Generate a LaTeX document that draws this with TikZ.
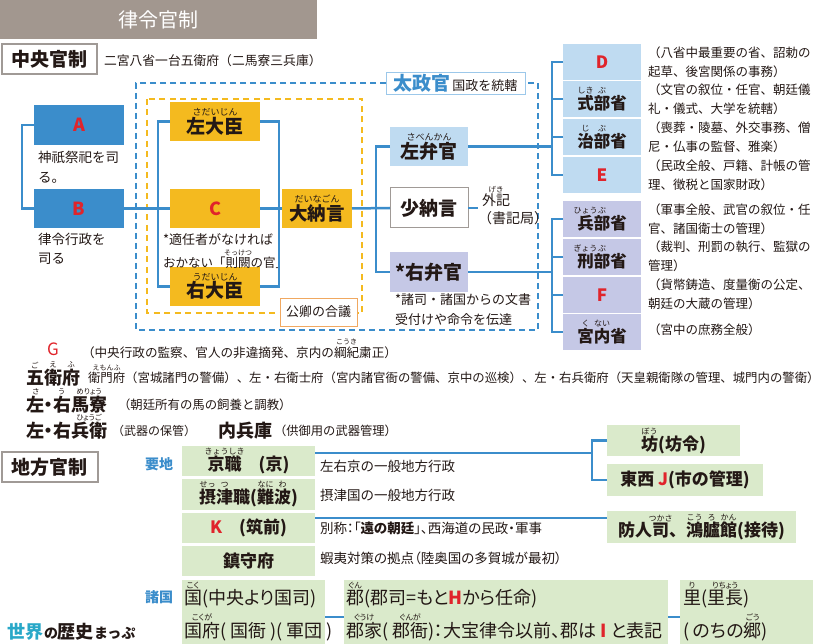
\documentclass[tikz,border=0pt]{standalone}
\usepackage{fontspec}
\setmainfont{Noto Sans CJK JP}
\newfontfamily\pfont{Noto Sans CJK JP}[RawFeature={+palt}]
\usetikzlibrary{calc}
\definecolor{cblue}{HTML}{3B8DCB}
\definecolor{cyel}{HTML}{F4BA1F}
\definecolor{clblue}{HTML}{BFDBF1}
\definecolor{clav}{HTML}{C5C8E6}
\definecolor{cgreen}{HTML}{DAEACB}
\definecolor{ctitle}{HTML}{A2978F}
\definecolor{cred}{HTML}{E0242B}
\definecolor{ctext}{HTML}{231815}
\definecolor{corange}{HTML}{F0A860}
\definecolor{cgray}{HTML}{A09A96}
\definecolor{cdajob}{HTML}{9CC8EA}
\definecolor{ccyan}{HTML}{29A8C8}
\newcommand\fsz[1]{\fontsize{#1}{#1}\selectfont}
\newcommand\rb[3][8.5]{\leavevmode\setbox0=\hbox{#2}\rlap{\hbox to\wd0{\hss\raisebox{\dimexpr\ht0+1.5pt\relax}{\fontsize{#1}{#1}\selectfont\mdseries #3}\hss}}\box0}
\newcommand\rl[1]{\textcolor{cred}{#1}}
\begin{document}
\begin{tikzpicture}[x=1pt,y=-1pt,
  every node/.style={inner sep=0pt,outer sep=0pt,text=ctext},
  box/.style={anchor=north west,font=\bfseries},
  conn/.style={draw=cblue,line width=2.5pt},
  bdash/.style={draw=cblue,line width=2pt,dash pattern=on 6pt off 4pt},
  odash/.style={draw=cyel,line width=2pt,dash pattern=on 6pt off 4.5pt},
  dsc/.style={anchor=west,align=left,font=\fontsize{12.5}{19}\selectfont},
  bl/.style={anchor=base west},
  lab/.style={anchor=west,text=cblue,font=\bfseries\fsz{14}}]
\useasboundingbox (0,0) rectangle (824,644);
\fill[white] (0,0) rectangle (824,644);
% title
\node[box,fill=ctitle,minimum width=317,minimum height=39,text=white,font=\fsz{20}] (title) at (0,0) {律令官制};
\node[box,draw=cgray,line width=1.2pt,fill=white,minimum width=95,minimum height=30,font=\bfseries\fsz{19}] (chuo) at (2,44) {中央官制};
\node[bl,font=\fsz{12.8}] (chuod) at (104,66) {二宮八省一台五衛府（二馬寮三兵庫）};
% frames
\node[box,draw=cdajob,line width=0.8pt,fill=white,minimum width=139,minimum height=22] (dajo) at (386,72) {\textcolor{cblue}{\fsz{19}太政官}\,{\mdseries\fsz{13}国政を統轄}};
\draw[bdash] (dajo.west) -- (136,83) -- (136,330) -- (538,330) -- (538,83) -- (dajo.east);
\draw[odash] (147,99) rectangle (362,313);
\node[box,draw=corange,line width=1pt,fill=white,minimum width=77,minimum height=28,font=\mdseries\fsz{13}] (kugyo) at (280,298) {公卿の合議};
% A B
\node[box,fill=cblue,minimum width=90,minimum height=40,font=\bfseries\fsz{18}] (A) at (34,105) {\rl{A}};
\node[box,fill=cblue,minimum width=90,minimum height=39,font=\bfseries\fsz{18}] (B) at (34,189) {\rl{B}};
\node[dsc,font=\fontsize{13.5}{20}\selectfont] (Ad) at (38,167) {神祇祭祀を司\\る。};
\node[dsc,font=\fontsize{13.5}{19}\selectfont] (Bd) at (38,249) {律令行政を\\司る};
\draw[conn] (A.west) -- ++(-12,0) |- (B.west);
% ministers
\node[box,fill=cyel,minimum width=90,minimum height=39,font=\bfseries\fsz{19}] (sadaijin) at (170,102) {\rb[9]{左大臣}{さだいじん}};
\node[box,fill=cyel,minimum width=90,minimum height=39,font=\bfseries\fsz{18}] (C) at (170,189) {\rl{C}};
\node[box,fill=cyel,minimum width=90,minimum height=39,font=\bfseries\fsz{19}] (udaijin) at (170,267) {\rb[9]{右大臣}{うだいじん}};
\node[bl,font=\fsz{13}] (cn1) at (163,245) {*適任者がなければ};
\node[bl,font=\fsz{12.5}] (cn2) at (163,267) {おかない「\rb[7]{則闕}{そっけつ}の官」};
\node[box,fill=cyel,minimum width=70,minimum height=39,font=\bfseries\fsz{18.5}] (dainagon) at (282,189) {\rb[9]{大納言}{だいなごん}};
\draw[conn] (B.east) -- (C.west);
\draw[conn] (sadaijin.west) -- ++(-12,0) |- (udaijin.west);
\draw[conn] (sadaijin.east) -- ++(19,0) |- (udaijin.east);
\draw[conn] (C.east) -- (dainagon.west);
% benkan
\node[box,fill=clblue,minimum width=78,minimum height=39,font=\bfseries\fsz{19}] (sabenkan) at (390,127) {\rb[9]{左弁官}{さべんかん}};
\node[box,draw=cgray,line width=1pt,fill=white,minimum width=78,minimum height=40,font=\bfseries\fsz{19}] (shonagon) at (390,188) {少納言};
\node[box,fill=clav,minimum width=78,minimum height=40,font=\bfseries\fsz{19}] (ubenkan) at (390,252) {*右弁官};
\node[bl,font=\fsz{14}] (geki1) at (482,206) {\rb[7.5]{外記}{げき}};
\node[bl,font=\fsz{14}] (geki2) at (478,224) {（書記局）};
\node[dsc,font=\fontsize{13}{20}\selectfont] (ubd) at (395,310) {*諸司・諸国からの文書\\受付けや命令を伝達};
\draw[conn] (dainagon.east) -- (shonagon.west);
\draw[conn] (sabenkan.west) -- ++(-14,0) |- (ubenkan.west);
\draw[conn] (shonagon.east) -- (geki2.west |- shonagon.east);
% ministries
\node[box,fill=clblue,minimum width=78,minimum height=36,font=\bfseries\fsz{17}] (D) at (563,44) {\rl{D}};
\node[box,fill=clblue,minimum width=78,minimum height=36,font=\bfseries\fsz{16.5}] (shikibu) at (563,81) {\rb[8]{式}{しき}\rb[8]{部}{ぶ}省};
\node[box,fill=clblue,minimum width=78,minimum height=36,font=\bfseries\fsz{16.5}] (jibu) at (563,119) {\rb[8]{治}{じ}\rb[8]{部}{ぶ}省};
\node[box,fill=clblue,minimum width=78,minimum height=36,font=\bfseries\fsz{17}] (E) at (563,157) {\rl{E}};
\node[box,fill=clav,minimum width=78,minimum height=36,font=\bfseries\fsz{16.5}] (hyobu) at (563,201) {\rb[8]{兵}{ひょう}\rb[8]{部}{ぶ}省};
\node[box,fill=clav,minimum width=78,minimum height=36,font=\bfseries\fsz{16.5}] (gyobu) at (563,239) {\rb[8]{刑}{ぎょう}\rb[8]{部}{ぶ}省};
\node[box,fill=clav,minimum width=78,minimum height=36,font=\bfseries\fsz{17}] (F) at (563,277) {\rl{F}};
\node[box,fill=clav,minimum width=78,minimum height=36,font=\bfseries\fsz{16.5}] (kunai) at (563,314) {\rb[8]{宮}{く}\rb[8]{内}{ない}省};
\draw[conn] (D.west) -- ++(-11,0) |- (E.west);
\draw[conn] (shikibu.west) -- ++(-11,0);
\draw[conn] (jibu.west) -- ++(-11,0);
\draw[conn] (sabenkan.east) -- ($(sabenkan.east -| D.west)+(-11,0)$);
\draw[conn] (hyobu.west) -- ++(-11,0) |- (kunai.west);
\draw[conn] (gyobu.west) -- ++(-11,0);
\draw[conn] (F.west) -- ++(-11,0);
\draw[conn] (ubenkan.east) -- ($(ubenkan.east -| hyobu.west)+(-11,0)$);
\node[dsc] (Dd) at (648,62) {（八省中最重要の省、詔勅の\\起草、後宮関係の事務）};
\node[dsc] (shikibud) at (648,99) {（文官の叙位・任官、朝廷儀\\礼・儀式、大学を統轄）};
\node[dsc] (jibud) at (648,137) {（喪葬・陵墓、外交事務、僧\\尼・仏事の監督、雅楽）};
\node[dsc] (Ed) at (648,175) {（民政全般、戸籍、計帳の管\\理、徴税と国家財政）};
\node[dsc] (hyobud) at (648,219) {（軍事全般、武官の叙位・任\\官、諸国衛士の管理）};
\node[dsc] (gyobud) at (648,256.5) {（裁判、刑罰の執行、監獄の\\管理）};
\node[dsc] (Fd) at (648,294.5) {（貨幣鋳造、度量衡の公定、\\朝廷の大蔵の管理）};
\node[dsc] (kunaid) at (648,330) {（宮中の庶務全般）};
% G and others
\node[font=\fsz{17}] (G) at (53,349) {\textcolor{cred}{G}};
\node[bl,font=\fsz{12.6}] (Gd) at (82,357) {（中央行政の監察、官人の非違摘発、京内の\rb[7]{綱紀}{こうき}粛正）};
\node[bl,font=\bfseries\fsz{18}] (goe) at (26,384) {\rb[7.5]{五}{ご}\rb[7.5]{衛}{え}\rb[7.5]{府}{ふ}};
\node[bl,font=\fsz{12.4}] (goed) at (88,382) {\rb[7]{衛門府}{えもんふ}（宮城諸門の警備）、左・右衛士府（宮内諸官衙の警備、京中の巡検）、左・右兵衛府（天皇親衛隊の管理、城門内の警衛）};
\node[bl,font=\pfont\bfseries\fsz{18}] (mery) at (26,411) {\rb[7.5]{左・右}{さ\hspace{19.5pt}う}\rb[7.5]{馬寮}{めりょう}};
\node[bl,font=\fsz{12.4}] (meryd) at (118,409) {（朝廷所有の馬の飼養と調教）};
\node[bl,font=\pfont\bfseries\fsz{18}] (hyoe) at (26,437) {左・右\rb[7.5]{兵衛}{ひょうご}};
\node[bl,font=\fsz{12}] (hyoed) at (112,435) {（武器の保管）};
\node[bl,font=\bfseries\fsz{18}] (naihyo) at (218,437) {内兵庫};
\node[bl,font=\fsz{12.3}] (naihyod) at (274,435) {（供御用の武器管理）};
% local
\node[box,draw=cgray,line width=1.2pt,fill=white,minimum width=96,minimum height=30,font=\bfseries\fsz{19}] (chiho) at (2,452) {地方官制};
\node[lab] (yochi) at (145,464) {要地};
\node[box,fill=cgreen,minimum width=133,minimum height=30,font=\bfseries\fsz{17}] (kyo) at (182,446) {\rb[8]{京職}{きょうしき}　(京)};
\node[box,fill=cgreen,minimum width=133,minimum height=31,font=\bfseries\fsz{17}] (settsu) at (182,479) {\rb[8]{摂}{せっ}\rb[8]{津}{つ}職(\rb[8]{難}{なに}\rb[8]{波}{わ})};
\node[box,fill=cgreen,minimum width=133,minimum height=30,font=\bfseries\fsz{17}] (K) at (182,513) {\textcolor{cred}{K}　(筑前)};
\node[box,fill=cgreen,minimum width=133,minimum height=30,font=\bfseries\fsz{17}] (chinju) at (182,546) {鎮守府};
\node[bl,font=\fsz{13.5}] (kyod) at (320,471) {左右京の一般地方行政};
\node[bl,font=\fsz{13.5}] (settsud) at (320,500) {摂津国の一般地方行政};
\node[bl,font=\pfont\fsz{13.5}] (Kd) at (320,533) {別称：「\textbf{遠の朝廷}」、西海道の民政・軍事};
\node[bl,font=\pfont\fsz{13.5}] (chinjud) at (320,563) {蝦夷対策の拠点（陸奥国の多賀城が最初）};
\node[box,fill=cgreen,minimum width=133,minimum height=31,font=\bfseries\fsz{17}] (bo) at (607,425) {\rb[8]{坊}{ぼう}(坊令)};
\node[box,fill=cgreen,minimum width=156,minimum height=32,font=\bfseries\fsz{17}] (tozai) at (607,464) {東西 \textcolor{cred}{J}(市の管理)};
\node[box,fill=cgreen,minimum width=189,minimum height=32,font=\bfseries\fsz{17}] (sakimori) at (607,511) {防人\rb[8]{司}{つかさ}、\rb[8]{鴻}{こう}\rb[8]{臚}{ろ}\rb[8]{館}{かん}(接待)};
\draw[conn] ([yshift=-7pt]kyo.north east) -- ($(kyo.north east -| bo.west)+(-15,7)$);
\draw[conn] (bo.west) -- ++(-15,0) |- (tozai.west);
\draw[conn] ([yshift=-5pt]K.north east) -- ($(K.north east -| sakimori.west)+(0,5)$);
\node[lab] (shokoku) at (145,597) {諸国};
\node[box,fill=cgreen,minimum width=143,minimum height=66] (kuni) at (182,580) {};
\node[box,fill=cgreen,minimum width=324,minimum height=66] (gun) at (344,580) {};
\node[box,fill=cgreen,minimum width=133,minimum height=66] (sato) at (680,580) {};
\node[bl,font=\pfont\fsz{18}] (kuni1) at (184,604) {\rb[8]{国}{こく}(中央より国司)};
\node[bl,font=\pfont\fsz{18}] (kuni2) at (184,637) {\rb[8]{国府}{こくが} ( 国衙 )( 軍団 )};
\node[bl,font=\pfont\fsz{18}] (gun1) at (346,604) {\rb[8]{郡}{ぐん}(郡司=もと\textcolor{cred}{\bfseries H}から任命)};
\node[bl,font=\pfont\fsz{18}] (gun2) at (346,637) {\rb[8]{郡家}{ぐうけ} ( \rb[8]{郡衙}{ぐんが} )：大宝律令以前、郡は \textcolor{cred}{\bfseries I} と表記};
\node[bl,font=\pfont\fsz{18}] (sato1) at (683,604) {\rb[8]{里}{り}(\rb[8]{里長}{りちょう})};
\node[bl,font=\pfont\fsz{18}] (sato2) at (683,637) {( のちの\rb[8]{郷}{ごう} )};
\draw[conn] ([yshift=-4pt]kuni.east) -- ([yshift=-4pt]gun.west);
\draw[conn] ([yshift=-4pt]gun.east) -- ([yshift=-4pt]sato.west);
% logo
\node[bl] (logo) at (8,638) {{\bfseries\fsz{18}\textcolor{ccyan}{世界}}{\bfseries\fsz{14}の}{\bfseries\fsz{18}歴史}{\bfseries\fsz{14}まっぷ}};
\end{tikzpicture}
\end{document}
